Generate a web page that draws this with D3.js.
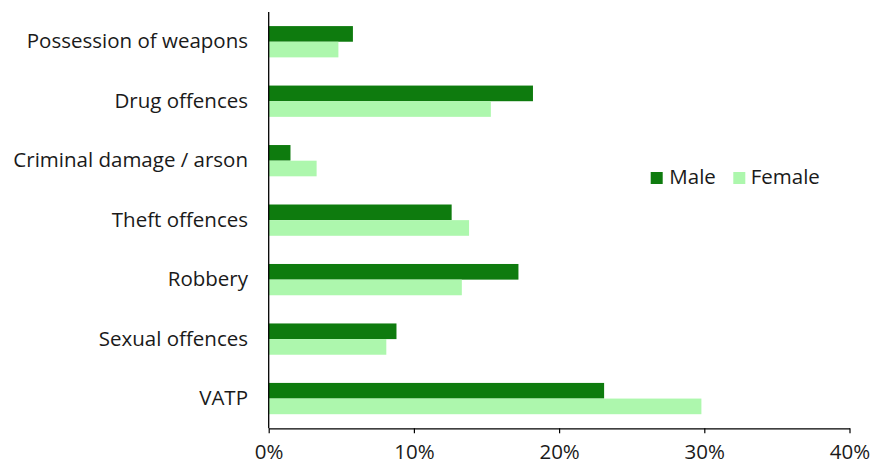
<!DOCTYPE html>
<html><head><meta charset="utf-8">
<script src="https://cdn.jsdelivr.net/npm/d3@7"></script>
<style>body{margin:0;background:#fff}text{font-family:"Open Sans",sans-serif;fill:#1a1a1a}</style>
</head><body><svg id="c" width="870" height="465"></svg>
<script>
const categories = ["Possession of weapons","Drug offences","Criminal damage / arson","Theft offences","Robbery","Sexual offences","VATP"];
const male = [5.8, 18.2, 1.5, 12.6, 17.2, 8.8, 23.1];
const female = [4.8, 15.3, 3.3, 13.8, 13.3, 8.1, 29.8];
const seriesNames = ["Male","Female"];
const colors = ["#0e7b0e","#adf7ad"];
const xTicks = [0,10,20,30,40];

const svg = d3.select("#c");
const m = {left:268.7, right:849.5, top:12, bottom:428.3};
const x = d3.scaleLinear().domain([0,40]).range([m.left, m.right]);
const y = d3.scaleBand().domain(categories).range([m.top, m.bottom]).paddingInner(0.474).paddingOuter(0.237);
const sub = d3.scaleBand().domain(seriesNames).range([0, y.bandwidth()]);

const data = categories.map((c,i)=>({c, vals:[male[i], female[i]]}));
const g = svg.append("g");
data.forEach(d=>{
  d.vals.forEach((v,j)=>{
    g.append("rect").attr("x", x(0)).attr("y", y(d.c)+sub(seriesNames[j]))
     .attr("width", x(v)-x(0)).attr("height", sub.bandwidth()).attr("fill", colors[j]);
  });
});

// category labels
svg.append("g").selectAll("text").data(categories).join("text")
  .attr("x", 248).attr("y", d=>y(d)+y.bandwidth()/2).attr("dy","0.32em")
  .attr("text-anchor","end").attr("font-size", 20.5).text(d=>d);

// y axis line
svg.append("line").attr("x1", x(0)).attr("x2", x(0)).attr("y1", m.top).attr("y2", m.bottom)
  .attr("stroke","#000").attr("stroke-width",1.3);

// x axis
const xa = svg.append("g").attr("transform", `translate(0,${m.bottom})`)
  .call(d3.axisBottom(x).tickValues(xTicks).tickFormat(d=>d+"%").tickSize(5).tickSizeOuter(0));
xa.select(".domain").attr("stroke","#000").attr("stroke-width",1.3);
xa.selectAll(".tick line").attr("stroke","#000").attr("stroke-width",1.2);
xa.selectAll("text").attr("font-size",20.5).attr("font-family","'Open Sans',sans-serif").attr("fill","#1a1a1a")
  .attr("y", 0).attr("dy", null).attr("transform", "translate(0,30.5)");

// legend
const lg = svg.append("g");
const lx = [650.7, 733.3];
const tx = [669.3, 750.7];
seriesNames.forEach((s,i)=>{
  lg.append("rect").attr("x", lx[i]).attr("y", 172).attr("width", 12).attr("height", 12).attr("fill", colors[i]);
  lg.append("text").attr("x", tx[i]).attr("y", 184).attr("font-size",20.5).text(s);
});
</script></body></html>
